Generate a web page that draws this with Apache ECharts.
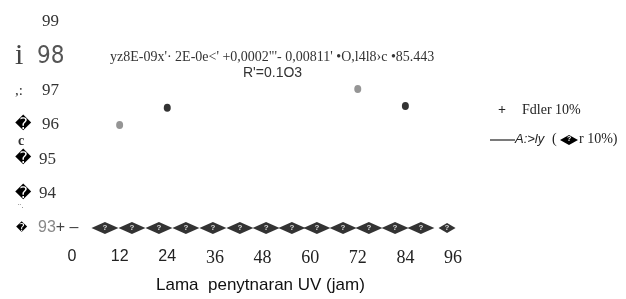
<!DOCTYPE html>
<html><head><meta charset="utf-8">
<script src="https://cdn.jsdelivr.net/npm/echarts@6/dist/echarts.min.js"></script>
<style>html,body{margin:0;padding:0;background:#fff}#c{width:626px;height:299px}</style>
</head><body><div id="c"></div>
<script>
// ---- data ----
const xTicks = [0, 12, 24, 36, 48, 60, 72, 84, 96];
const yTicks = [93, 94, 95, 96, 97, 98, 99];
const grayX = [12, 72];
const grayY = [96.0, 97.05];
const blackX = [24, 84];
const blackY = [96.5, 96.55];
const diamondX = [8.3, 15.1, 21.9, 28.7, 35.5, 42.3, 48.9, 55.4, 61.7, 68.3, 74.8, 81.4, 87.9, 94.5];
const diamondY = [93, 93, 93, 93, 93, 93, 93, 93, 93, 93, 93, 93, 93, 93];
const equationText = "yz8E-09x'\u00b7 2E-0e<' +0,0002\"'- 0,00811' \u2022O,l4l8\u203ac \u202285.443";
const r2Text = "R'=0.1O3";
const xTitle = "Lama  penytnaran UV (jam)";
const legend1 = "Fdler 10%";
const legend2a = "A:>ly";
const legend2b = "r 10%)";

const serif = "'Liberation Serif','DejaVu Serif',serif";
const sans = "'Liberation Sans',Arial,sans-serif";

const chart = echarts.init(document.getElementById('c'));
const zip = (a, b) => a.map((v, i) => [v, b[i]]);

chart.setOption({
  animation: false,
  backgroundColor: '#fff',
  grid: { left: 72, right: 173, top: 22, bottom: 71, containLabel: false },
  xAxis: {
    type: 'value', min: 0, max: 96, interval: 12,
    axisLine: { show: false }, axisTick: { show: false }, splitLine: { show: false },
    axisLabel: {
      margin: 21, color: '#222',
      formatter: v => (v <= 24 ? '{s|' + v + '}' : '{r|' + v + '}'),
      rich: {
        s: { fontFamily: sans, fontSize: 16, color: '#222' },
        r: { fontFamily: serif, fontSize: 18, color: '#222' }
      }
    }
  },
  yAxis: {
    type: 'value', min: 93, max: 99, interval: 1,
    axisLine: { show: false }, axisTick: { show: false }, splitLine: { show: false },
    axisLabel: {
      margin: 57, align: 'left', color: '#333',
      formatter: function (v) {
        switch (v) {
          case 99: return '{sp27|}{n|99}';
          case 98: return '{i|i}{sp9|}{big|98}';
          case 97: return '{c|,:}{n|97}';
          case 96: return '{g|\uFFFD}{n|96}';
          case 95: return '{g2|\uFFFD}{n|95}';
          case 94: return '{g2|\uFFFD}{n|94}';
          case 93: return '{gs|\uFFFD}{m|93}{p|+ \u2013}';
        }
        return '';
      },
      rich: {
        sp27: { width: 27 },
        sp9: { width: 8 },
        n: { fontFamily: serif, fontSize: 17, color: '#333' },
        m: { fontFamily: sans, fontSize: 16, color: '#888' },
        p: { fontFamily: sans, fontSize: 16, color: '#444' },
        i: { fontFamily: serif, fontSize: 30, color: '#444', width: 14 },
        big: { fontFamily: "'Liberation Sans Narrow','DejaVu Sans Condensed','Noto Sans',sans-serif", fontSize: 24, color: '#555', fontWeight: 'lighter' },
        c: { fontFamily: serif, fontSize: 15, color: '#333', width: 27 },
        g: { fontFamily: "'DejaVu Sans',sans-serif", fontSize: 16, color: '#000', width: 27 },
        g2: { fontFamily: "'DejaVu Sans',sans-serif", fontSize: 16, color: '#000', width: 24 },
        gs: { fontFamily: "'DejaVu Sans',sans-serif", fontSize: 11, color: '#000', width: 22, padding: [0, 0, 0, 1] }
      }
    }
  },
  series: [
    {
      name: 'gray', type: 'scatter', data: zip(grayX, grayY),
      symbol: 'circle', symbolSize: [7, 8], itemStyle: { color: '#7a7a7a' }
    },
    {
      name: 'black', type: 'scatter', data: zip(blackX, blackY),
      symbol: 'circle', symbolSize: [7, 8], itemStyle: { color: '#000' }
    },
    {
      name: 'diamonds', type: 'scatter', data: zip(diamondX, diamondY),
      symbol: 'diamond',
      symbolSize: (val, p) => (p.dataIndex === diamondX.length - 1 ? [17, 10] : [27, 12]),
      itemStyle: { color: '#000' },
      label: { show: true, position: 'inside', formatter: '?', color: '#fff', fontSize: 8, fontWeight: 'bold', fontFamily: sans }
    }
  ],
  graphic: [
    { type: 'text', left: 110, top: 50, style: { text: equationText, font: '14px ' + serif, fill: '#333' } },
    { type: 'text', left: 243, top: 66, style: { text: r2Text, font: '14px ' + sans, fill: '#333' } },
    { type: 'text', left: 156, top: 277, style: { text: xTitle, font: '17px ' + sans, fill: '#111' } },
    // small marks under left glyphs
    { type: 'text', left: 18, top: 134, style: { text: 'c', font: 'bold 14px ' + serif, fill: '#333' } },
    { type: 'text', left: 18, top: 203, style: { text: '\u00a8\u00b7', font: '9px ' + sans, fill: '#888' } },
    // legend
    { type: 'text', left: 498, top: 103, style: { text: '+', font: 'bold 14px ' + serif, fill: '#222' } },
    { type: 'text', left: 522, top: 103, style: { text: legend1, font: '14px ' + serif, fill: '#222' } },
    { type: 'line', shape: { x1: 490, y1: 140, x2: 515, y2: 140 }, style: { stroke: '#222', lineWidth: 1.2 } },
    { type: 'text', left: 515, top: 133, style: { text: legend2a, font: 'italic 13px ' + sans, fill: '#222' } },
    { type: 'text', left: 552, top: 132, style: { text: '(', font: '14px ' + serif, fill: '#222' } },
    { type: 'polygon', shape: { points: [[560, 140], [569, 135], [578, 140], [569, 145]] }, style: { fill: '#000' } },
    { type: 'text', left: 567, top: 136, style: { text: '?', font: 'bold 7px ' + sans, fill: '#fff' } },
    { type: 'text', left: 579, top: 132, style: { text: legend2b, font: '14px ' + serif, fill: '#222' } }
  ]
});
</script>
</body></html>
